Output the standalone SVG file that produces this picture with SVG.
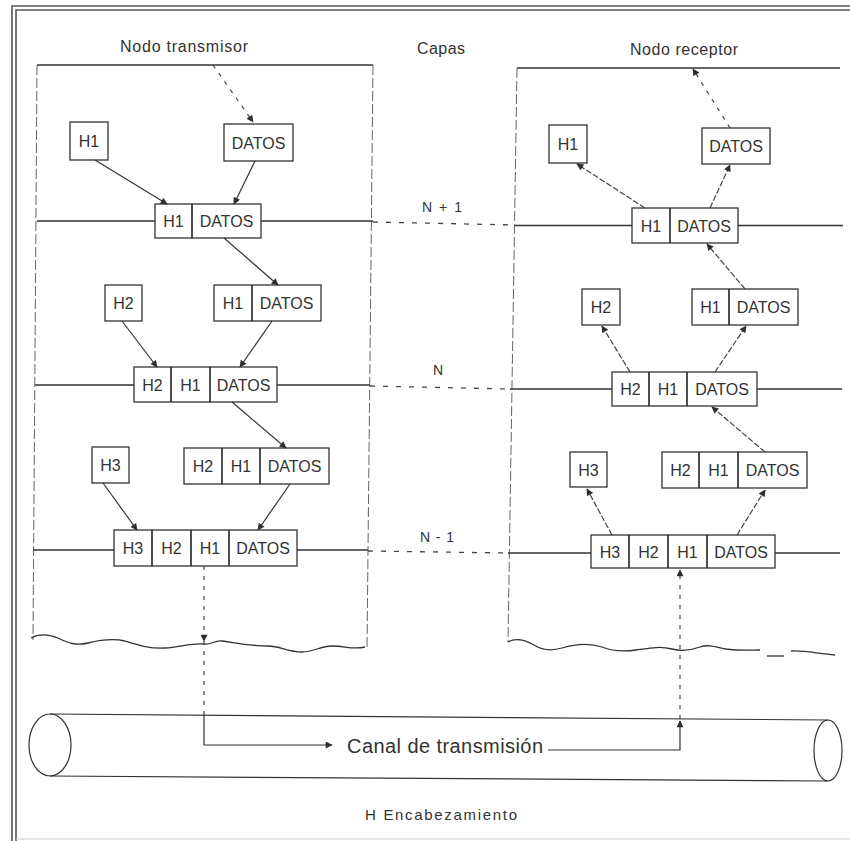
<svg xmlns="http://www.w3.org/2000/svg" width="850" height="841" viewBox="0 0 850 841">
  <defs>
    <marker id="arr" viewBox="0 0 10 10" refX="9" refY="5" markerWidth="8" markerHeight="7" markerUnits="userSpaceOnUse" orient="auto">
      <path d="M0,0 L10,5 L0,10 z" fill="#2e2e2e"/>
    </marker>
    <style>
      .frame { fill: none; stroke: #555; stroke-width: 1.6; }
      .box { fill: #fff; stroke: #333; stroke-width: 1.3; }
      .div { stroke: #222; stroke-width: 1.6; }
      .lbl { font-family: "Liberation Sans", Arial, sans-serif; font-size: 16px; fill: #333; text-anchor: middle; }
      .cap { font-family: "Liberation Sans", Arial, sans-serif; fill: #333; }
      .edge { fill: none; stroke: #333; stroke-width: 1.2; }
      .ghost { fill: none; stroke: #666; stroke-width: 1; stroke-dasharray: 10 3; }
      .layer { fill: none; stroke: #333; stroke-width: 1.3; }
      .dots { fill: none; stroke: #444; stroke-width: 1.3; stroke-dasharray: 5 8; }
      .solid { fill: none; stroke: #333; stroke-width: 1.2; }
      .soft { fill: none; stroke: #444; stroke-width: 1.2; stroke-dasharray: 6 2; }
      .dash { fill: none; stroke: #444; stroke-width: 1.2; stroke-dasharray: 4 6; }
    </style>
  </defs>

  <rect width="850" height="841" fill="#fff"/>

  <!-- outer double frame -->
  <g id="frame">
    <path class="frame" d="M12,841 V6 H850"/>
    <path class="frame" d="M16,841 V10 H850"/>
    <path d="M16,839 H850" stroke="#ccc" stroke-width="1" fill="none"/>
  </g>

  <!-- titles -->
  <g id="titles">
    <text class="cap" x="120" y="52" font-size="16" textLength="128" lengthAdjust="spacing">Nodo transmisor</text>
    <text class="cap" x="417" y="54" font-size="16" textLength="48" lengthAdjust="spacing">Capas</text>
    <text class="cap" x="630" y="55" font-size="16" textLength="108" lengthAdjust="spacing">Nodo receptor</text>
    <text class="cap" x="422" y="212" font-size="14" textLength="40" lengthAdjust="spacing">N + 1</text>
    <text class="cap" x="433" y="375" font-size="14">N</text>
    <text class="cap" x="420" y="542" font-size="14" textLength="34" lengthAdjust="spacing">N - 1</text>
  </g>

  <!-- node enclosures -->
  <g id="transmitter-node">
    <path class="layer" d="M37,65 H373"/>
    <path class="ghost" d="M37,65 L33,640"/>
    <path class="ghost" d="M373,65 L367,648"/>
    <path class="layer" d="M31,638 C38,634 48,634 58,638 C68,643 76,646 88,643 C100,640 112,638 125,641 C138,645 150,649 165,648 C180,647 192,643 204,644 C212,645 214,640 222,641 C236,643 250,646 268,646 C280,646 288,652 302,652 C314,652 320,646 332,646 C344,646 354,650 365,647"/>
  </g>
  <g id="receiver-node">
    <path class="layer" d="M517,68 H840"/>
    <path class="ghost" d="M517,68 L508,642"/>
    <path class="layer" d="M508,642 C515,638 525,640 534,645 C542,650 552,651 562,648 C575,644 590,643 602,647 C612,651 622,652 636,650 C650,648 660,646 672,649 C684,652 692,650 700,647 C708,644 716,647 726,649 C740,651 752,650 760,650"/>
    <path class="layer" d="M767,656 H784"/>
    <path class="layer" d="M791,651 C802,650 815,653 835,655"/>
  </g>

  <!-- layer lines -->
  <g id="layers">
    <path class="layer" d="M37,221 H155 M261,221 H373"/>
    <path class="dots" d="M373,222 L515,225"/>
    <path class="layer" d="M515,225.5 H632 M738,225.5 H843"/>

    <path class="layer" d="M35,385 H134 M277,385 H370"/>
    <path class="dots" d="M370,386 L510,389"/>
    <path class="layer" d="M510,389 H612 M757,389 H842"/>

    <path class="layer" d="M33,550 H114 M297,550 H368"/>
    <path class="dots" d="M368,551 L508,553"/>
    <path class="layer" d="M508,553 H591 M775,553 H840"/>
  </g>

  <!-- transmission channel -->
  <g id="channel">
    <ellipse class="edge" cx="50" cy="745" rx="21" ry="31"/>
    <path class="edge" d="M50,714 L828,720"/>
    <path class="edge" d="M50,776 L828,781"/>
    <ellipse class="edge" cx="828" cy="750.5" rx="14" ry="30.5"/>
    <text class="cap" x="347" y="753" font-size="20" textLength="196" lengthAdjust="spacing">Canal de transmisión</text>
  </g>

  <!-- transmitter side packets -->
  <g id="tx-h1">
    <rect class="box" x="70" y="122" width="38" height="38"/>
    <text class="lbl" x="89" y="147">H1</text>
  </g>
  <g id="tx-datos">
    <rect class="box" x="224" y="124" width="69" height="37"/>
    <text class="lbl" x="258.5" y="148.5">DATOS</text>
  </g>
  <g id="tx-n1">
    <rect class="box" x="155" y="204" width="106" height="34"/>
    <line class="div" x1="192" y1="204" x2="192" y2="238"/>
    <text class="lbl" x="173.5" y="227">H1</text>
    <text class="lbl" x="226.5" y="227">DATOS</text>
  </g>
  <g id="tx-h2">
    <rect class="box" x="105" y="285" width="37" height="36"/>
    <text class="lbl" x="123.5" y="309">H2</text>
  </g>
  <g id="tx-h1datos">
    <rect class="box" x="214" y="285" width="107" height="36"/>
    <line class="div" x1="252" y1="285" x2="252" y2="321"/>
    <text class="lbl" x="233" y="309">H1</text>
    <text class="lbl" x="286.5" y="309">DATOS</text>
  </g>
  <g id="tx-n">
    <rect class="box" x="134" y="367" width="143" height="35"/>
    <line class="div" x1="171" y1="367" x2="171" y2="402"/>
    <line class="div" x1="210" y1="367" x2="210" y2="402"/>
    <text class="lbl" x="152.5" y="390.5">H2</text>
    <text class="lbl" x="190.5" y="390.5">H1</text>
    <text class="lbl" x="243.5" y="390.5">DATOS</text>
  </g>
  <g id="tx-h3">
    <rect class="box" x="92" y="447" width="37" height="36"/>
    <text class="lbl" x="110.5" y="471">H3</text>
  </g>
  <g id="tx-h2h1datos">
    <rect class="box" x="184" y="448" width="145" height="36"/>
    <line class="div" x1="222" y1="448" x2="222" y2="484"/>
    <line class="div" x1="260" y1="448" x2="260" y2="484"/>
    <text class="lbl" x="203" y="472">H2</text>
    <text class="lbl" x="241" y="472">H1</text>
    <text class="lbl" x="294.5" y="472">DATOS</text>
  </g>
  <g id="tx-nm1">
    <rect class="box" x="114" y="530" width="183" height="36"/>
    <line class="div" x1="152" y1="530" x2="152" y2="566"/>
    <line class="div" x1="191" y1="530" x2="191" y2="566"/>
    <line class="div" x1="229" y1="530" x2="229" y2="566"/>
    <text class="lbl" x="133" y="554">H3</text>
    <text class="lbl" x="171.5" y="554">H2</text>
    <text class="lbl" x="210" y="554">H1</text>
    <text class="lbl" x="263" y="554">DATOS</text>
  </g>

  <!-- receiver side packets -->
  <g id="rx-h1">
    <rect class="box" x="549" y="125" width="38" height="38"/>
    <text class="lbl" x="568" y="150">H1</text>
  </g>
  <g id="rx-datos">
    <rect class="box" x="702" y="128" width="68" height="36"/>
    <text class="lbl" x="736" y="152">DATOS</text>
  </g>
  <g id="rx-n1">
    <rect class="box" x="632" y="208" width="106" height="35"/>
    <line class="div" x1="670" y1="208" x2="670" y2="243"/>
    <text class="lbl" x="651" y="231.5">H1</text>
    <text class="lbl" x="704" y="231.5">DATOS</text>
  </g>
  <g id="rx-h2">
    <rect class="box" x="582" y="289" width="38" height="36"/>
    <text class="lbl" x="601" y="313">H2</text>
  </g>
  <g id="rx-h1datos">
    <rect class="box" x="692" y="289" width="106" height="36"/>
    <line class="div" x1="729" y1="289" x2="729" y2="325"/>
    <text class="lbl" x="710.5" y="313">H1</text>
    <text class="lbl" x="763.5" y="313">DATOS</text>
  </g>
  <g id="rx-n">
    <rect class="box" x="612" y="372" width="145" height="34"/>
    <line class="div" x1="649" y1="372" x2="649" y2="406"/>
    <line class="div" x1="687" y1="372" x2="687" y2="406"/>
    <text class="lbl" x="630.5" y="395">H2</text>
    <text class="lbl" x="668" y="395">H1</text>
    <text class="lbl" x="722" y="395">DATOS</text>
  </g>
  <g id="rx-h3">
    <rect class="box" x="570" y="452" width="37" height="35"/>
    <text class="lbl" x="588.5" y="475.5">H3</text>
  </g>
  <g id="rx-h2h1datos">
    <rect class="box" x="662" y="452" width="145" height="36"/>
    <line class="div" x1="699" y1="452" x2="699" y2="488"/>
    <line class="div" x1="738" y1="452" x2="738" y2="488"/>
    <text class="lbl" x="680.5" y="476">H2</text>
    <text class="lbl" x="718.5" y="476">H1</text>
    <text class="lbl" x="772.5" y="476">DATOS</text>
  </g>
  <g id="rx-nm1">
    <rect class="box" x="591" y="535" width="184" height="33"/>
    <line class="div" x1="629" y1="535" x2="629" y2="568"/>
    <line class="div" x1="668" y1="535" x2="668" y2="568"/>
    <line class="div" x1="707" y1="535" x2="707" y2="568"/>
    <text class="lbl" x="610" y="557.5">H3</text>
    <text class="lbl" x="648.5" y="557.5">H2</text>
    <text class="lbl" x="687.5" y="557.5">H1</text>
    <text class="lbl" x="741" y="557.5">DATOS</text>
  </g>

  <!-- connectors -->
  <g id="connectors">
    <!-- encapsulation, transmitter -->
    <path class="dash" d="M213,65 L253,122" marker-end="url(#arr)"/>
    <path class="solid" d="M95,160 L167,204" marker-end="url(#arr)"/>
    <path class="solid" d="M255,161 L234,204" marker-end="url(#arr)"/>
    <path class="solid" d="M224,238 L278,285" marker-end="url(#arr)"/>
    <path class="solid" d="M122,321 L157,367" marker-end="url(#arr)"/>
    <path class="solid" d="M272,321 L240,367" marker-end="url(#arr)"/>
    <path class="solid" d="M232,402 L286,448" marker-end="url(#arr)"/>
    <path class="solid" d="M103,483 L137,530" marker-end="url(#arr)"/>
    <path class="solid" d="M290,484 L258,530" marker-end="url(#arr)"/>

    <!-- down to the channel and across -->
    <path class="dash" d="M204,566 V641" marker-end="url(#arr)"/>
    <path class="dash" d="M204,641 V714"/>
    <path class="solid" d="M204,714 V745 H332" marker-end="url(#arr)"/>
    <path class="solid" d="M548,750 H680 V721" marker-end="url(#arr)"/>
    <path class="dash" d="M680,719 V570" marker-end="url(#arr)"/>

    <!-- decapsulation, receiver -->
    <path class="soft" d="M612,535 L587,489" marker-end="url(#arr)"/>
    <path class="soft" d="M737,535 L765,490" marker-end="url(#arr)"/>
    <path class="soft" d="M765,452 L712,407" marker-end="url(#arr)"/>
    <path class="soft" d="M630,372 L602,326" marker-end="url(#arr)"/>
    <path class="soft" d="M715,372 L746,326" marker-end="url(#arr)"/>
    <path class="soft" d="M745,289 L707,244" marker-end="url(#arr)"/>
    <path class="soft" d="M645,208 L577,164" marker-end="url(#arr)"/>
    <path class="soft" d="M710,208 L730,165" marker-end="url(#arr)"/>
    <path class="dash" d="M730,128 L693,69" marker-end="url(#arr)"/>
  </g>

  <!-- legend -->
  <g id="legend">
    <text class="cap" x="365" y="820" font-size="15" textLength="152" lengthAdjust="spacing">H  Encabezamiento</text>
  </g>
</svg>
